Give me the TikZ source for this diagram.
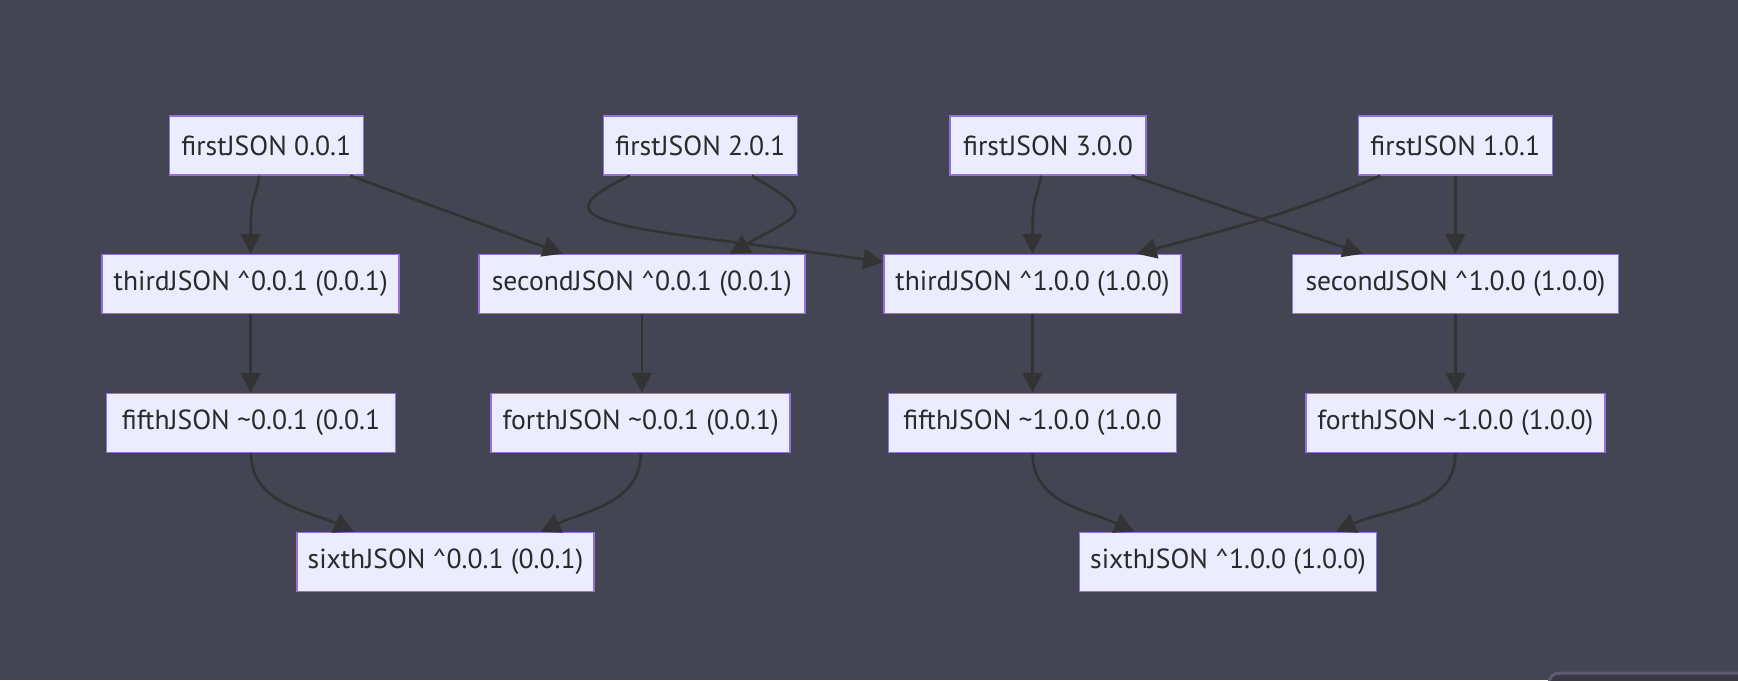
\documentclass[tikz,border=0pt]{standalone}
\usepackage{fontspec}
\setmainfont{PT Sans}
\usetikzlibrary{arrows.meta, positioning}

\definecolor{bgdark}{HTML}{444553}
\definecolor{pkgfill}{HTML}{ECECFF}
\definecolor{pkgline}{HTML}{9370DB}
\definecolor{depline}{HTML}{333333}
\definecolor{txtdark}{HTML}{2A2A2A}
\definecolor{tabfill}{HTML}{3A3844}
\definecolor{tabline}{HTML}{5C5D6E}

\tikzset{
  pkg/.style={draw=pkgline, fill=pkgfill, line width=0.75pt, minimum height=29.5pt,
    inner xsep=1pt, text=txtdark, font=\fontsize{13.8}{16}\selectfont},
  dep/.style={draw=depline, line width=1.3pt, -{Triangle[length=10pt, width=10pt]}},
}

\begin{document}
\begin{tikzpicture}[x=0.5pt, y=-0.5pt]

\useasboundingbox (0,0) rectangle (1738,680);
\fill[bgdark] (0,0) rectangle (1738,680);
\draw[fill=tabfill, draw=tabline, line width=1.5pt, rounded corners=5pt] (1549,673) rectangle (1800,720);

%% first row
\node[pkg, minimum width=97pt] (first001) at (266.3,145.5) {firstJSON 0.0.1};
\node[pkg, minimum width=97pt] (first201) at (700.3,145.5) {firstJSON 2.0.1};
\node[pkg, minimum width=98pt] (first300) at (1048,145.5) {firstJSON 3.0.0};
\node[pkg, minimum width=97pt] (first101) at (1455.3,145.5) {firstJSON 1.0.1};

%% second row
\node[pkg, minimum width=148.5pt] (third001) at (250.7,284) {thirdJSON \textasciicircum0.0.1 (0.0.1)};
\node[pkg, minimum width=163pt] (second001) at (641.8,284) {secondJSON \textasciicircum0.0.1 (0.0.1)};
\node[pkg, minimum width=148.5pt] (third100) at (1032.5,284) {thirdJSON \textasciicircum1.0.0 (1.0.0)};
\node[pkg, minimum width=163pt] (second100) at (1455.5,284) {secondJSON \textasciicircum1.0.0 (1.0.0)};

%% third row
\node[pkg, minimum width=144.5pt] (fifth001) at (251,423) {fifthJSON \textasciitilde0.0.1 (0.0.1};
\node[pkg, minimum width=149.5pt] (forth001) at (640.7,423) {forthJSON \textasciitilde0.0.1 (0.0.1)};
\node[pkg, minimum width=144pt] (fifth100) at (1032.5,423) {fifthJSON \textasciitilde1.0.0 (1.0.0};
\node[pkg, minimum width=149.5pt] (forth100) at (1455.4,423) {forthJSON \textasciitilde1.0.0 (1.0.0)};

%% last row
\node[pkg, minimum width=148.5pt] (sixth001) at (445.5,562) {sixthJSON \textasciicircum0.0.1 (0.0.1)};
\node[pkg, minimum width=148.5pt] (sixth100) at (1228,562) {sixthJSON \textasciicircum1.0.0 (1.0.0)};

% deps of first row
\draw[dep] ([xshift=-3.5pt]first001.south) .. controls +(-100:14pt) and +(90:30pt) .. (third001.north);
\draw[dep] ([xshift=42pt]first001.south) -- ([xshift=-39.5pt]second001.north);
\draw[dep] ([xshift=25.7pt]first201.south) .. controls +(-30:40pt) and +(30:40pt) .. ([xshift=44pt]second001.north);
\draw[dep] ([xshift=-35.2pt]first201.south) .. controls +(-155:60pt) and +(172:125pt) .. ([yshift=11pt]third100.west);
\draw[dep] ([xshift=-3.5pt]first300.south) .. controls +(-100:14pt) and +(90:30pt) .. (third100.north);
\draw[dep] ([xshift=41.8pt]first300.south) -- ([xshift=-46.3pt]second100.north);
\draw[dep] ([xshift=-37.5pt]first101.south) to[out=-157, in=15] ([xshift=52pt]third100.north);
\draw[dep] (first101.south) -- (first101.south |- second100.north);

% deps of second row
\draw[dep] (third001.south) -- (third001.south |- fifth001.north);
\draw[dep] (second001.south) -- (second001.south |- forth001.north);
\draw[dep] (third100.south) -- (third100.south |- fifth100.north);
\draw[dep] (second100.south) -- (second100.south |- forth100.north);

% deps of third row
\draw[dep] (fifth001.south) to[out=-90, in=155] ([xshift=-45.8pt]sixth001.north);
\draw[dep] (forth001.south) to[out=-90, in=25] ([xshift=47.5pt]sixth001.north);
\draw[dep] (fifth100.south) to[out=-90, in=155] ([xshift=-46.8pt]sixth100.north);
\draw[dep] (forth100.south) to[out=-90, in=25] ([xshift=54pt]sixth100.north);

\end{tikzpicture}
\end{document}
